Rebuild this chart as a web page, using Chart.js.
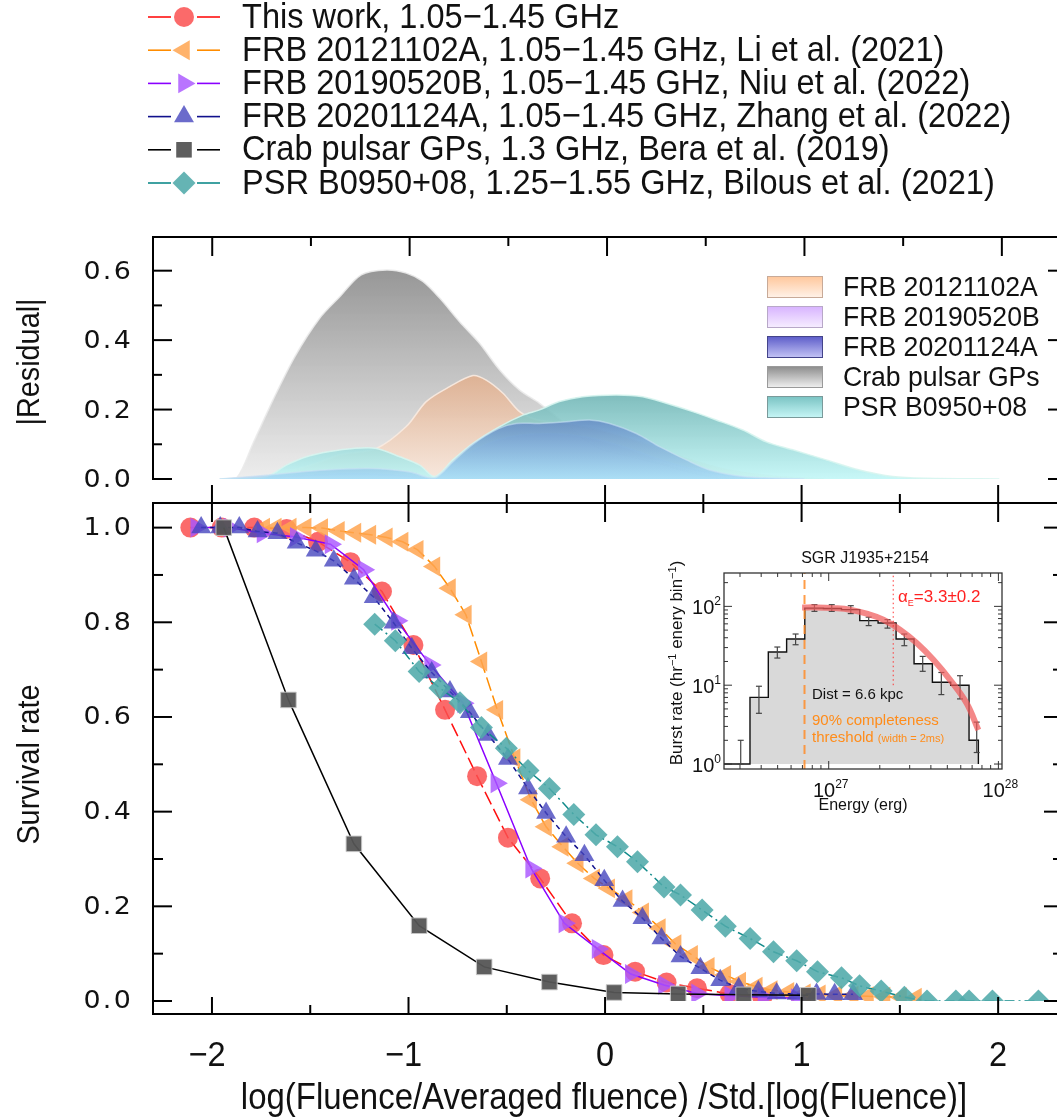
<!DOCTYPE html>
<html>
<head>
<meta charset="utf-8">
<title>Survival rate of burst fluences</title>
<script src="https://cdn.jsdelivr.net/npm/chart.js@4.4.1/dist/chart.umd.min.js"></script>
<style>
  html, body { margin: 0; padding: 0; background: #fff; overflow: hidden; }
  #page { position: relative; width: 1057px; height: 1120px; overflow: hidden; }
  canvas { position: absolute; }
</style>
</head>
<body>
<div id="page">
  <canvas id="survival" width="1075" height="1120" style="left:0;top:0"></canvas>
  <canvas id="residual" width="1075" height="500" style="left:0;top:0"></canvas>
  <canvas id="burst" width="420" height="290" style="left:630px;top:540px"></canvas>
</div>
<script>
const SANS = '"Liberation Sans", Helvetica, Arial, sans-serif';
const ROUND = '"DejaVu Sans", sans-serif';

// ---- survival curves: x = log(F/<F>)/std[log F], y = survival rate ----
const workX = [-2.11, -1.95, -1.785, -1.62, -1.46, -1.295, -1.135, -0.975, -0.814, -0.651, -0.494, -0.330, -0.168, -0.008, 0.153, 0.313, 0.468, 0.634, 0.80];
const workY = [1.00, 1.00, 1.00, 0.997, 0.970, 0.927, 0.865, 0.752, 0.615, 0.475, 0.345, 0.259, 0.164, 0.097, 0.062, 0.039, 0.027, 0.015, 0.008];

const frb121102X = [-1.734, -1.675, -1.599, -1.523, -1.439, -1.354, -1.270, -1.194, -1.110, -1.030, -0.953, -0.868, -0.789, -0.708, -0.629, -0.548, -0.460, -0.376, -0.300, -0.215, -0.139, -0.055, 0.021, 0.110, 0.194, 0.279, 0.359, 0.443, 0.528, 0.612, 0.688, 0.772, 0.848, 0.933, 1.017, 1.093, 1.177, 1.260, 1.338, 1.422, 1.506, 1.582];
const frb121102Y = [1.0, 1.0, 1.0, 1.0, 0.999, 0.993, 0.989, 0.985, 0.979, 0.970, 0.953, 0.918, 0.872, 0.816, 0.717, 0.615, 0.513, 0.425, 0.368, 0.326, 0.291, 0.259, 0.238, 0.215, 0.187, 0.154, 0.120, 0.097, 0.072, 0.055, 0.041, 0.030, 0.023, 0.019, 0.016, 0.014, 0.012, 0.011, 0.010, 0.009, 0.008, 0.007];

const frb190520X = [-2.08, -1.911, -1.743, -1.574, -1.397, -1.228, -1.059, -0.890, -0.722, -0.553, -0.376, -0.207, -0.038, 0.131, 0.300, 0.468, 0.637, 0.806, 0.975];
const frb190520Y = [1.0, 1.0, 0.988, 0.980, 0.965, 0.911, 0.803, 0.710, 0.629, 0.460, 0.280, 0.164, 0.110, 0.057, 0.034, 0.016, 0.011, 0.008, 0.006];

const frb201124X = [-2.055, -1.958, -1.861, -1.768, -1.667, -1.569, -1.472, -1.380, -1.278, -1.177, -1.076, -0.983, -0.882, -0.789, -0.688, -0.595, -0.494, -0.392, -0.300, -0.198, -0.105, -0.004, 0.089, 0.190, 0.287, 0.384, 0.485, 0.586, 0.680, 0.780, 0.873, 0.975, 1.076, 1.168, 1.262];
const frb201124Y = [1.0, 1.0, 1.0, 0.992, 0.988, 0.968, 0.951, 0.930, 0.892, 0.853, 0.799, 0.745, 0.694, 0.654, 0.610, 0.562, 0.511, 0.449, 0.397, 0.347, 0.308, 0.255, 0.211, 0.175, 0.132, 0.094, 0.069, 0.044, 0.027, 0.020, 0.016, 0.015, 0.015, 0.014, 0.014];

const crabX = [-1.94, -1.611, -1.278, -0.946, -0.615, -0.283, 0.046, 0.372, 0.705, 1.034];
const crabY = [1.0, 0.636, 0.332, 0.159, 0.072, 0.040, 0.018, 0.015, 0.013, 0.012];

const psr0950X = [-1.172, -1.067, -0.946, -0.840, -0.738, -0.629, -0.502, -0.392, -0.283, -0.159, -0.046, 0.063, 0.165, 0.300, 0.384, 0.494, 0.612, 0.738, 0.857, 0.975, 1.081, 1.203, 1.295, 1.405, 1.523, 1.638, 1.785, 1.852, 1.971, 2.205];
const psr0950Y = [0.796, 0.761, 0.696, 0.661, 0.630, 0.578, 0.534, 0.487, 0.449, 0.394, 0.351, 0.326, 0.294, 0.241, 0.224, 0.192, 0.158, 0.132, 0.104, 0.085, 0.062, 0.049, 0.032, 0.021, 0.008, 0, 0, 0, 0, 0];

const seriesLabels = [
  'This work, 1.05\u22121.45 GHz',
  'FRB 20121102A, 1.05\u22121.45 GHz, Li et al. (2021)',
  'FRB 20190520B, 1.05\u22121.45 GHz, Niu et al. (2022)',
  'FRB 20201124A, 1.05\u22121.45 GHz, Zhang et al. (2022)',
  'Crab pulsar GPs, 1.3 GHz, Bera et al. (2019)',
  'PSR B0950+08, 1.25\u22121.55 GHz, Bilous et al. (2021)'
];

// ---- |residual| against this work ----
const resCrabX = [-1.95, -1.877, -1.793, -1.692, -1.582, -1.456, -1.354, -1.245, -1.118, -1.017, -0.933, -0.848, -0.747, -0.646, -0.544, -0.443, -0.342, -0.257, -0.173, -0.040, 0.100, 0.266, 0.420, 0.570, 0.700];
const resCrabY = [0, 0.002, 0.103, 0.228, 0.352, 0.463, 0.525, 0.588, 0.602, 0.593, 0.569, 0.521, 0.453, 0.391, 0.314, 0.256, 0.218, 0.180, 0.141, 0.090, 0.068, 0.045, 0.020, 0.003, 0];
const res121102X = [-1.96, -1.70, -1.50, -1.35, -1.168, -1.017, -0.916, -0.797, -0.679, -0.612, -0.527, -0.443, -0.350, -0.200, 0.000, 0.200, 0.400, 0.600, 0.850, 1.100];
const res121102Y = [0, 0.010, 0.040, 0.070, 0.088, 0.151, 0.223, 0.266, 0.298, 0.285, 0.247, 0.194, 0.170, 0.160, 0.135, 0.100, 0.060, 0.028, 0.008, 0];
const res190520X = [-1.962, -1.60, -1.30, -1.05, -0.88, -0.78, -0.65, -0.50, -0.30, -0.10, 0.10, 0.30, 0.50, 0.75, 1.00];
const res190520Y = [0, 0.008, 0.015, 0.010, 0.002, 0.045, 0.090, 0.120, 0.130, 0.120, 0.090, 0.050, 0.020, 0.004, 0];
const res201124X = [-1.962, -1.70, -1.45, -1.20, -1.00, -0.873, -0.78, -0.68, -0.55, -0.46, -0.342, -0.207, -0.089, 0.013, 0.148, 0.266, 0.401, 0.519, 0.688, 0.857, 1.00];
const res201124Y = [0, 0.012, 0.025, 0.030, 0.020, 0.003, 0.050, 0.100, 0.145, 0.160, 0.160, 0.165, 0.170, 0.160, 0.131, 0.093, 0.055, 0.026, 0.007, 0.002, 0];
const res0950X = [-1.962, -1.726, -1.624, -1.523, -1.405, -1.287, -1.168, -1.050, -0.949, -0.873, -0.781, -0.679, -0.544, -0.426, -0.342, -0.241, -0.123, 0.047, 0.181, 0.300, 0.434, 0.553, 0.688, 0.806, 0.941, 1.110, 1.278, 1.447, 1.616, 1.987];
const res0950Y = [0, 0.007, 0.040, 0.064, 0.079, 0.088, 0.088, 0.064, 0.040, 0.007, 0.055, 0.103, 0.151, 0.184, 0.199, 0.223, 0.237, 0.242, 0.237, 0.218, 0.194, 0.170, 0.141, 0.107, 0.084, 0.055, 0.026, 0.007, 0.002, 0];
const residualLabels = ['FRB 20121102A', 'FRB 20190520B', 'FRB 20201124A', 'Crab pulsar GPs', 'PSR B0950+08'];

// ---- shared axis ticks ----
const xMajor = [-2, -1, 0, 1, 2];
const xMinor = [-1.5, -0.5, 0.5, 1.5];
const xTickLabels = ['\u22122', '\u22121', '0', '1', '2'];
const survMajor = [0, 0.2, 0.4, 0.6, 0.8, 1.0];
const survMinor = [0.1, 0.3, 0.5, 0.7, 0.9];
const survTickLabels = ['0.0', '0.2', '0.4', '0.6', '0.8', '1.0'];
const resMajor = [0, 0.2, 0.4, 0.6];
const resMinor = [0.1, 0.3, 0.5];
const resTickLabels = ['0.0', '0.2', '0.4', '0.6'];

// ---- SGR J1935+2154 burst energy distribution ----
const binLeft = [2.415e26, 3.436e26, 4.406e26, 5.649e26, 7.228e26, 9.311e26, 1.189e27, 1.524e27, 1.954e27, 2.495e27, 3.184e27, 4.083e27, 5.236e27, 6.714e27];
const binRate = [1, 7, 26.4, 38.5, 95, 94, 91, 66, 61.5, 38.5, 18.7, 10.9, 10, 2.0];
const binLastEdge = 7.621e27;
const errEnergy = [3.03e26, 3.88e26, 4.98e26, 6.38e26, 8.24e26, 1.042e27, 1.349e27, 1.72e27, 2.22e27, 2.79e27, 3.58e27, 4.61e27, 5.94e27, 7.45e27];
const errLow = [1.0, 4.4, 22.1, 32.6, 86.5, 86.5, 81, 57, 53, 31.7, 15, 7.6, 6.7, 1.4];
const errHigh = [2.0, 9.7, 30.5, 44.6, 105, 105, 102, 73, 68, 44.6, 23.2, 14.5, 13.2, 3.4];
const fitEnergy = [6.97e26, 8.49e26, 1.066e27, 1.337e27, 1.675e27, 2.10e27, 2.63e27, 3.30e27, 4.14e27, 5.19e27, 6.50e27, 7.62e27];
const fitRate = [97, 97, 95, 90.7, 80.7, 67.8, 50.6, 34.3, 21.0, 11.7, 5.9, 2.7];
const thresholdEnergy = 7.2e26;
const breakEnergy = 2.4e27;
const energyMin = 2.415e26, energyMax = 1.05e28;
const rateMin = 0.865, rateMax = 265;
const energyMajor = [1e27, 1e28];
const energyMinor = [3e26, 4e26, 5e26, 6e26, 7e26, 8e26, 9e26, 2e27, 3e27, 4e27, 5e27, 6e27, 7e27, 8e27, 9e27];
const energyExp = ['27', '28'];
const rateMajor = [1, 10, 100];
const rateMinor = [2, 3, 4, 5, 6, 7, 8, 9, 20, 30, 40, 50, 60, 70, 80, 90, 200];
const rateExp = ['0', '1', '2'];

// ---------- drawing helpers ----------
function seg(ctx, x1, y1, x2, y2) {
  ctx.beginPath(); ctx.moveTo(x1, y1); ctx.lineTo(x2, y2); ctx.stroke();
}
// o.sx squeezes or widens the glyphs horizontally
function text(ctx, s, x, y, o) {
  ctx.save();
  ctx.font = o.font;
  ctx.fillStyle = o.color || '#111';
  ctx.textAlign = o.align || 'left';
  ctx.textBaseline = o.baseline || 'middle';
  if (o.spacing) ctx.letterSpacing = o.spacing;
  ctx.translate(x, y);
  if (o.rotate) ctx.rotate(o.rotate);
  if (o.sx) ctx.scale(o.sx, 1);
  ctx.fillText(s, 0, 0);
  ctx.restore();
}
// text made of runs with their own size and vertical shift (sup/subscripts)
function runs(ctx, parts, x, y, o) {
  ctx.save();
  ctx.translate(x, y);
  if (o.rotate) ctx.rotate(o.rotate);
  ctx.textBaseline = 'alphabetic';
  let total = 0;
  parts.forEach(p => { ctx.font = p.size + 'px ' + SANS; total += ctx.measureText(p.t).width; });
  let cx = o.align === 'center' ? -total / 2 : (o.align === 'right' ? -total : 0);
  parts.forEach(p => {
    ctx.font = p.size + 'px ' + SANS;
    ctx.fillStyle = p.color || o.color || '#111';
    ctx.fillText(p.t, cx, p.dy || 0);
    cx += ctx.measureText(p.t).width;
  });
  ctx.restore();
}

function series(xs, ys, o) {
  return {
    label: o.label,
    data: xs.map((v, i) => ({ x: v, y: ys[i] })),
    borderColor: o.line,
    borderWidth: 1.5,
    borderDash: o.dash || [],
    pointStyle: o.style,
    pointRotation: o.rot || 0,
    pointRadius: o.r,
    pointHoverRadius: o.r,
    pointBackgroundColor: o.fill,
    pointBorderColor: o.edge || 'rgba(0,0,0,0)',
    pointBorderWidth: o.edge ? 1 : 0,
    fill: false,
    tension: 0,
    order: o.order
  };
}

const bigText = { font: '35px ' + SANS, sx: 0.93 };
const tickText = { font: '24px ' + ROUND, align: 'right', spacing: '2px', sx: 1.12 };

// ---------- lower panel: survival rate ----------
const survivalFrame = {
  id: 'survivalFrame',
  afterDraw(chart) {
    const { ctx, chartArea: a, scales: { x, y } } = chart;
    const base = a.bottom + 13;   // bottom axis sits just below y = 0
    ctx.save();
    ctx.strokeStyle = '#000';
    ctx.lineWidth = 2;
    ctx.setLineDash([]);
    ctx.beginPath();
    ctx.moveTo(a.left, base); ctx.lineTo(a.left, a.top); ctx.lineTo(a.right, a.top); ctx.lineTo(a.right, base);
    ctx.stroke();
    seg(ctx, a.left - 1, base, a.right, base);
    xMajor.forEach(v => {
      const px = x.getPixelForValue(v);
      seg(ctx, px, base, px, base - 17);
      seg(ctx, px, a.top - 18, px, a.top + 19);
    });
    xMinor.forEach(v => {
      const px = x.getPixelForValue(v);
      seg(ctx, px, base, px, base - 9);
      seg(ctx, px, a.top - 9, px, a.top + 10);
    });
    survMajor.forEach(v => {
      const py = y.getPixelForValue(v);
      seg(ctx, a.left, py, a.left + 19, py);
      seg(ctx, a.right, py, a.right - 19, py);
    });
    survMinor.forEach(v => {
      const py = y.getPixelForValue(v);
      seg(ctx, a.left, py, a.left + 10, py);
      seg(ctx, a.right, py, a.right - 10, py);
    });
    survMajor.forEach((v, i) => {
      text(ctx, survTickLabels[i], 133, y.getPixelForValue(v) + 1, tickText);
    });
    xMajor.forEach((v, i) => {
      text(ctx, xTickLabels[i], x.getPixelForValue(v) - (i < 2 ? 5 : 0), base + 42, { ...bigText, align: 'center' });
    });
    text(ctx, 'log(Fluence/Averaged fluence) /Std.[log(Fluence)]', 604, base + 85, { font: '36px ' + SANS, sx: 0.915, align: 'center' });
    text(ctx, 'Survival rate', 30, (a.top + base) / 2 + 6, { font: '31px ' + SANS, sx: 0.93, align: 'center', rotate: -Math.PI / 2 });

    // legend above both panels
    chart.data.datasets.forEach((ds, i) => {
      const ly = 17 + i * 33.2;
      ctx.strokeStyle = ds.borderColor;
      ctx.lineWidth = 1.6;
      seg(ctx, 148, ly, 171, ly);
      seg(ctx, 197, ly, 220, ly);
      ctx.fillStyle = ds.pointBackgroundColor;
      Chart.helpers.drawPoint(ctx, { pointStyle: ds.pointStyle, radius: ds.pointRadius, rotation: ds.pointRotation, borderWidth: 0 }, 184, ly);
      text(ctx, seriesLabels[i], 242, ly + 1, bigText);
    });
    ctx.restore();
  }
};

new Chart(document.getElementById('survival'), {
  type: 'line',
  data: {
    datasets: [
      series(workX, workY, { label: seriesLabels[0], line: '#ff1010', dash: [14, 5], style: 'circle', r: 10, fill: 'rgba(250,80,80,0.85)', order: 6 }),
      series(frb121102X, frb121102Y, { label: seriesLabels[1], line: '#ff8c00', dash: [14, 5], style: 'triangle', rot: 270, r: 11.5, fill: 'rgba(255,165,80,0.85)', order: 5 }),
      series(frb190520X, frb190520Y, { label: seriesLabels[2], line: '#8a00ff', style: 'triangle', rot: 90, r: 11.5, fill: 'rgba(170,85,255,0.82)', order: 4 }),
      series(frb201124X, frb201124Y, { label: seriesLabels[3], line: '#10108c', dash: [5, 4], style: 'triangle', r: 11.5, fill: 'rgba(70,70,190,0.8)', order: 3 }),
      series(crabX, crabY, { label: seriesLabels[4], line: '#000', style: 'rect', r: 11, fill: 'rgba(85,85,85,0.95)', edge: 'rgba(200,200,200,0.9)', order: 2 }),
      series(psr0950X, psr0950Y, { label: seriesLabels[5], line: '#108a8a', dash: [10, 4, 2, 4], style: 'rectRot', r: 11.5, fill: 'rgba(80,170,170,0.88)', order: 1 })
    ]
  },
  options: {
    responsive: false,
    animation: false,
    devicePixelRatio: 1,
    events: [],
    layout: { padding: { left: 153, top: 503, right: 8, bottom: 119 } },
    scales: {
      x: { type: 'linear', min: -2.3, max: 2.33, display: false },
      y: { type: 'linear', min: 0, max: 1.052, display: false }
    },
    plugins: { legend: { display: false }, tooltip: { enabled: false } }
  },
  plugins: [survivalFrame]
});

// ---------- upper panel: |residual| ----------
function shade(top, bottom) {
  return (c) => {
    const ch = c.chart, a = ch.chartArea;
    if (!a || !c.dataset) return top;
    const peak = Math.max(...c.dataset.data.map(p => p.y));
    const g = ch.ctx.createLinearGradient(0, ch.scales.y.getPixelForValue(peak), 0, a.bottom);
    g.addColorStop(0, top);
    g.addColorStop(1, bottom);
    return g;
  };
}
function hump(xs, ys, o) {
  return {
    label: o.label,
    data: xs.map((v, i) => ({ x: v, y: ys[i] })),
    fill: 'origin',
    backgroundColor: shade(o.top, o.bottom),
    borderColor: o.edge,
    borderWidth: 1.5,
    pointRadius: 0,
    tension: 0.3,
    order: o.order
  };
}
const residualKey = [
  ['#ffc69a', '#fff3ea', '#c8aa98'],
  ['#d7b2ff', '#f7efff', '#b8a8c8'],
  ['#5a5ac8', '#c6c6f6', '#44448a'],
  ['#8a8a8a', '#f2f2f2', '#9a9a9a'],
  ['#78c2c2', '#c8f7f7', '#7a9a9a']
];

const residualFrame = {
  id: 'residualFrame',
  afterDraw(chart) {
    const { ctx, chartArea: a, scales: { x, y } } = chart;
    ctx.save();
    ctx.strokeStyle = '#000';
    ctx.lineWidth = 2;
    ctx.beginPath();
    ctx.moveTo(a.left, a.bottom); ctx.lineTo(a.left, a.top); ctx.lineTo(a.right, a.top); ctx.lineTo(a.right, a.bottom);
    ctx.stroke();
    xMajor.forEach(v => { const px = x.getPixelForValue(v); seg(ctx, px, a.top, px, a.top + 19); });
    xMinor.forEach(v => { const px = x.getPixelForValue(v); seg(ctx, px, a.top, px, a.top + 9); });
    resMajor.forEach(v => {
      const py = y.getPixelForValue(v);
      seg(ctx, a.left - 1, py, a.left + 19, py);
      seg(ctx, a.right, py, a.right - 19, py);
    });
    resMinor.forEach(v => {
      const py = y.getPixelForValue(v);
      seg(ctx, a.left, py, a.left + 9, py);
      seg(ctx, a.right, py, a.right - 9, py);
    });
    resMajor.forEach((v, i) => {
      text(ctx, resTickLabels[i], 133, y.getPixelForValue(v) + 2, tickText);
    });
    text(ctx, '|Residual|', 30, (a.top + a.bottom) / 2 + 4, { font: '31px ' + SANS, sx: 0.93, align: 'center', rotate: -Math.PI / 2 });

    // key with shaded swatches
    residualLabels.forEach((s, i) => {
      const by = 276 + i * 30;
      const g = ctx.createLinearGradient(0, by, 0, by + 22);
      g.addColorStop(0, residualKey[i][0]);
      g.addColorStop(1, residualKey[i][1]);
      ctx.fillStyle = g;
      ctx.fillRect(767, by, 56, 22);
      ctx.strokeStyle = residualKey[i][2];
      ctx.lineWidth = 1;
      ctx.strokeRect(767.5, by + 0.5, 55, 21);
      text(ctx, s, 843, by + 12, { font: '28px ' + SANS, sx: 0.95 });
    });
    ctx.restore();
  }
};

new Chart(document.getElementById('residual'), {
  type: 'line',
  data: {
    datasets: [
      hump(resCrabX, resCrabY, { label: residualLabels[3], top: 'rgba(145,145,145,0.95)', bottom: 'rgba(236,236,236,0.9)', edge: 'rgba(235,235,235,0.9)', order: 5 }),
      hump(res121102X, res121102Y, { label: residualLabels[0], top: 'rgba(232,170,128,0.7)', bottom: 'rgba(252,230,215,0.7)', edge: 'rgba(250,235,225,0.9)', order: 4 }),
      hump(res190520X, res190520Y, { label: residualLabels[1], top: 'rgba(190,140,250,0.45)', bottom: 'rgba(235,215,255,0.45)', edge: 'rgba(230,215,250,0.8)', order: 3 }),
      hump(res0950X, res0950Y, { label: residualLabels[4], top: 'rgba(110,180,180,0.88)', bottom: 'rgba(190,246,246,0.85)', edge: 'rgba(215,245,240,0.9)', order: 2 }),
      hump(res201124X, res201124Y, { label: residualLabels[2], top: 'rgba(60,80,190,0.45)', bottom: 'rgba(130,190,245,0.4)', edge: 'rgba(200,225,245,0.6)', order: 1 })
    ]
  },
  options: {
    responsive: false,
    animation: false,
    devicePixelRatio: 1,
    events: [],
    layout: { padding: { left: 153, top: 237, right: 8, bottom: 21 } },
    scales: {
      x: { type: 'linear', min: -2.3, max: 2.33, display: false },
      y: { type: 'linear', min: 0, max: 0.697, display: false }
    },
    plugins: { legend: { display: false }, tooltip: { enabled: false } }
  },
  plugins: [residualFrame]
});

// ---------- inset: SGR J1935+2154 burst energy distribution ----------
const histPoints = binLeft.map((e, i) => ({ x: e, y: binRate[i] }));
histPoints.push({ x: binLastEdge, y: binRate[binRate.length - 1] });
histPoints.push({ x: binLastEdge, y: 1 });

const burstFrame = {
  id: 'burstFrame',
  afterDatasetDraw(chart, args) {
    if (args.index !== 0) return;
    const { ctx, scales: { x, y } } = chart;
    ctx.save();
    ctx.strokeStyle = '#444';
    ctx.lineWidth = 1.2;
    errEnergy.forEach((e, i) => {
      const px = x.getPixelForValue(e);
      const lo = y.getPixelForValue(errLow[i]), hi = y.getPixelForValue(errHigh[i]);
      seg(ctx, px, lo, px, hi);
      seg(ctx, px - 3, lo, px + 3, lo);
      seg(ctx, px - 3, hi, px + 3, hi);
    });
    ctx.restore();
  },
  afterDraw(chart) {
    const { ctx, chartArea: a, scales: { x, y } } = chart;
    ctx.save();
    ctx.strokeStyle = '#333';
    ctx.lineWidth = 1.3;
    ctx.strokeRect(a.left, a.top, a.right - a.left, a.bottom - a.top);
    ctx.lineWidth = 1;
    energyMajor.forEach(v => {
      const px = x.getPixelForValue(v);
      seg(ctx, px, a.bottom, px, a.bottom - 8); seg(ctx, px, a.top, px, a.top + 8);
    });
    energyMinor.forEach(v => {
      const px = x.getPixelForValue(v);
      seg(ctx, px, a.bottom, px, a.bottom - 4); seg(ctx, px, a.top, px, a.top + 4);
    });
    rateMajor.forEach(v => {
      const py = y.getPixelForValue(v);
      seg(ctx, a.left, py, a.left + 8, py); seg(ctx, a.right, py, a.right - 8, py);
    });
    rateMinor.forEach(v => {
      const py = y.getPixelForValue(v);
      seg(ctx, a.left, py, a.left + 4, py); seg(ctx, a.right, py, a.right - 4, py);
    });
    rateMajor.forEach((v, i) => {
      runs(ctx, [{ t: '10', size: 20 }, { t: rateExp[i], size: 12, dy: -9 }], a.left - 3, y.getPixelForValue(v) + 8, { align: 'right' });
    });
    energyMajor.forEach((v, i) => {
      runs(ctx, [{ t: '10', size: 20 }, { t: energyExp[i], size: 12, dy: -9 }], x.getPixelForValue(v) + 2, a.bottom + 28, { align: 'center' });
    });
    text(ctx, 'Energy (erg)', (a.left + a.right) / 2, a.bottom + 37, { font: '16px ' + SANS, align: 'center' });
    text(ctx, 'SGR J1935+2154', (a.left + a.right) / 2 + 2, a.top - 14, { font: '16px ' + SANS, align: 'center' });
    runs(ctx, [
      { t: 'Burst rate (hr', size: 17 }, { t: '\u22121', size: 11, dy: -6 },
      { t: ' enery bin', size: 17 }, { t: '\u22121', size: 11, dy: -6 }, { t: ')', size: 17 }
    ], a.left - 42, (a.top + a.bottom) / 2 - 8, { align: 'center', rotate: -Math.PI / 2 });
    runs(ctx, [
      { t: '\u03b1', size: 17 }, { t: 'E', size: 9, dy: 4 }, { t: '=3.3\u00b10.2', size: 17 }
    ], a.left + 174, a.top + 29, { color: '#ff2020' });
    text(ctx, 'Dist = 6.6 kpc', a.left + 88, a.top + 122, { font: '15px ' + SANS, color: '#111' });
    text(ctx, '90% completeness', a.left + 88, a.top + 148, { font: '15px ' + SANS, color: '#ff8c1a' });
    runs(ctx, [{ t: 'threshold ', size: 15 }, { t: '(width = 2ms)', size: 11 }], a.left + 88, a.top + 169, { color: '#ff8c1a' });
    ctx.restore();
  }
};

new Chart(document.getElementById('burst'), {
  type: 'line',
  data: {
    datasets: [
      {
        label: 'Burst rate',
        data: histPoints,
        stepped: 'before',
        borderColor: '#111',
        borderWidth: 1.4,
        backgroundColor: '#d9d9d9',
        fill: { value: 1 },
        pointRadius: 0,
        order: 4
      },
      {
        label: 'Fit',
        data: fitEnergy.map((e, i) => ({ x: e, y: fitRate[i] })),
        borderColor: 'rgba(240,90,90,0.72)',
        borderWidth: 6,
        tension: 0.4,
        fill: false,
        pointRadius: 0,
        order: 3
      },
      {
        label: 'Completeness threshold',
        data: [{ x: thresholdEnergy, y: rateMin }, { x: thresholdEnergy, y: rateMax }],
        borderColor: 'rgba(255,140,40,0.85)',
        borderWidth: 2,
        borderDash: [9, 6],
        fill: false,
        pointRadius: 0,
        order: 2
      },
      {
        label: 'Break',
        data: [{ x: breakEnergy, y: 10 }, { x: breakEnergy, y: rateMax }],
        borderColor: '#f33',
        borderWidth: 1,
        borderDash: [1.5, 3],
        fill: false,
        pointRadius: 0,
        order: 1
      }
    ]
  },
  options: {
    responsive: false,
    animation: false,
    devicePixelRatio: 1,
    events: [],
    layout: { padding: { left: 94, top: 33, right: 48, bottom: 61 } },
    scales: {
      x: { type: 'logarithmic', min: energyMin, max: energyMax, display: false },
      y: { type: 'logarithmic', min: rateMin, max: rateMax, display: false }
    },
    plugins: { legend: { display: false }, tooltip: { enabled: false } }
  },
  plugins: [burstFrame]
});
</script>
</body>
</html>
